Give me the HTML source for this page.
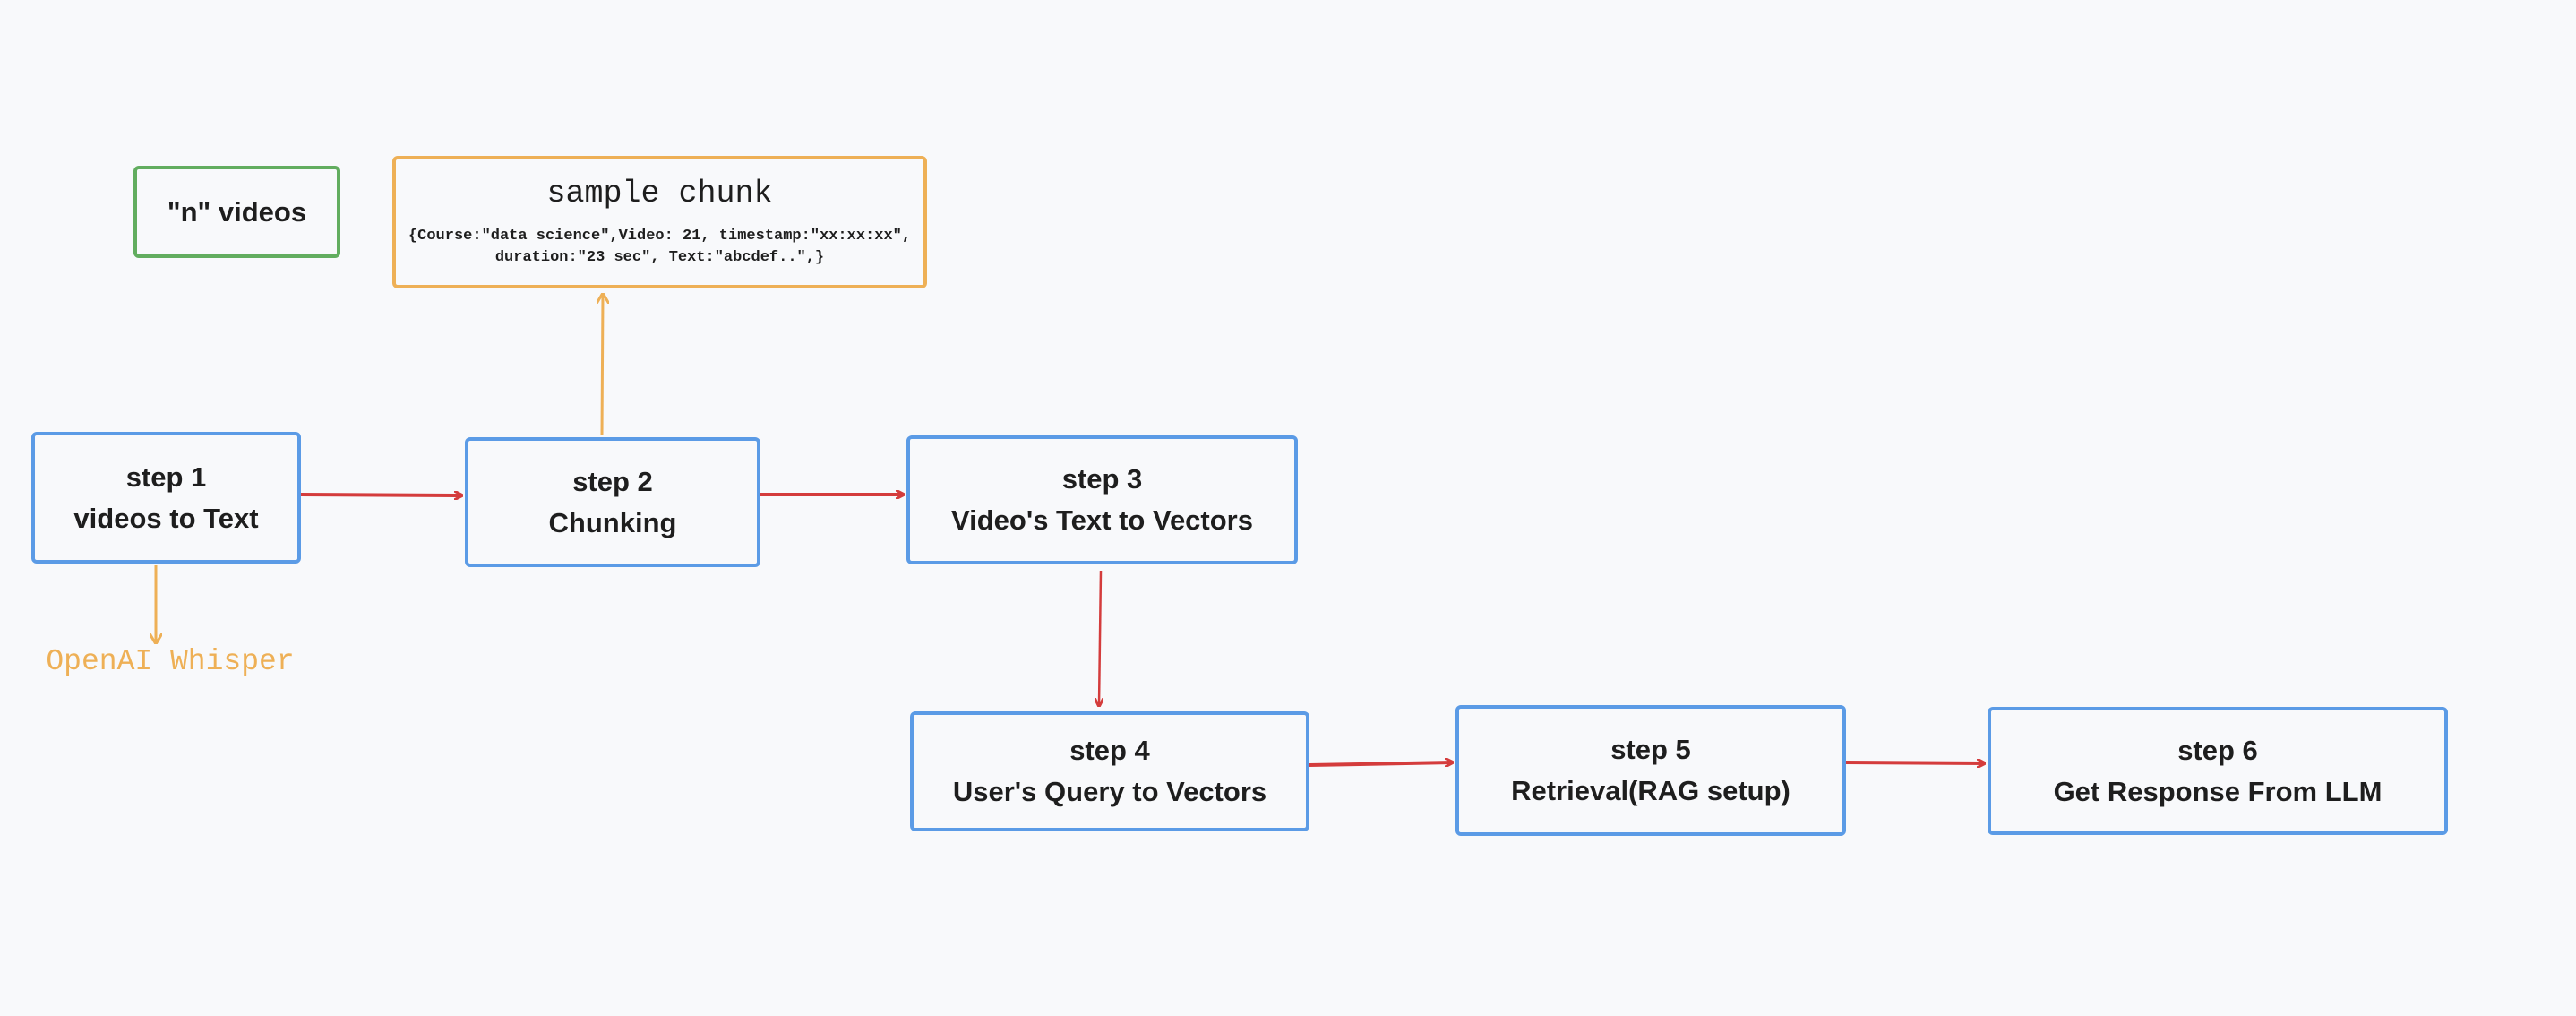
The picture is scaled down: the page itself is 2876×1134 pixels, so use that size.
<!DOCTYPE html>
<html><head><meta charset="utf-8"><style>
html,body{margin:0;padding:0;background:#f8f9fb;}
body{width:2876px;height:1134px;position:relative;overflow:hidden;font-family:"Liberation Sans",sans-serif;}
.b{position:absolute;box-sizing:border-box;border:4px solid #5b9be6;border-radius:6px;display:flex;flex-direction:column;align-items:center;justify-content:center;text-align:center;color:#1e1e1e;font-weight:bold;font-size:31px;line-height:46px;background:#f8f9fb;}
.g{border-color:#62ad5f;}
.o{border-color:#eeb056;}
.m{font-family:"Liberation Mono",monospace;font-weight:normal;}
</style></head><body>
<svg width="2876" height="1134" style="position:absolute;left:0;top:0">
<defs>
<marker id="r" markerWidth="10" markerHeight="10" refX="9" refY="5" orient="auto" markerUnits="userSpaceOnUse"><path d="M0,0 L10,5 L0,10" fill="none" stroke="#d43c3c" stroke-width="3"/></marker>
<marker id="y" markerWidth="12" markerHeight="14" refX="11" refY="7" orient="auto" markerUnits="userSpaceOnUse"><path d="M0,0 L12,7 L0,14" fill="none" stroke="#eeb056" stroke-width="3"/></marker>
</defs>
<g stroke="#d43c3c" stroke-width="4" fill="none">
<line x1="336" y1="552" x2="516" y2="553" marker-end="url(#r)"/>
<line x1="849" y1="552" x2="1009" y2="552" marker-end="url(#r)"/>
<line x1="1229" y1="637" x2="1227" y2="788" stroke-width="2.5" marker-end="url(#r)"/>
<line x1="1462" y1="854" x2="1622" y2="851" marker-end="url(#r)"/>
<line x1="2061" y1="851" x2="2216" y2="852" marker-end="url(#r)"/>
</g>
<g stroke="#eeb056" stroke-width="3" fill="none">
<line x1="672" y1="486" x2="673" y2="328" marker-end="url(#y)"/>
<line x1="174" y1="631" x2="174" y2="718" marker-end="url(#y)"/>
</g>
</svg>
<div class="b g" style="left:149px;top:185px;width:231px;height:103px;">"n" videos</div>
<div class="b o m" style="left:438px;top:174px;width:597px;height:148px;justify-content:flex-start;">
<div style="font-size:35px;margin-top:18px;line-height:40px;">sample chunk</div>
<div style="font-size:17px;line-height:24px;margin-top:16px;font-weight:bold;">{Course:"data science",Video: 21, timestamp:"xx:xx:xx",<br>duration:"23 sec", Text:"abcdef..",}</div>
</div>
<div class="b" style="left:35px;top:482px;width:301px;height:147px;">step 1<br>videos to Text</div>
<div class="b" style="left:519px;top:488px;width:330px;height:145px;">step 2<br>Chunking</div>
<div class="b" style="left:1012px;top:486px;width:437px;height:144px;">step 3<br>Video's Text to Vectors</div>
<div class="b" style="left:1016px;top:794px;width:446px;height:134px;">step 4<br>User's Query to Vectors</div>
<div class="b" style="left:1625px;top:787px;width:436px;height:146px;">step 5<br>Retrieval(RAG setup)</div>
<div class="b" style="left:2219px;top:789px;width:514px;height:143px;">step 6<br>Get Response From LLM</div>
<div class="m" style="position:absolute;left:30px;top:718px;width:320px;text-align:center;color:#eeb056;font-size:33px;line-height:42px;">OpenAI Whisper</div>
</body></html>
